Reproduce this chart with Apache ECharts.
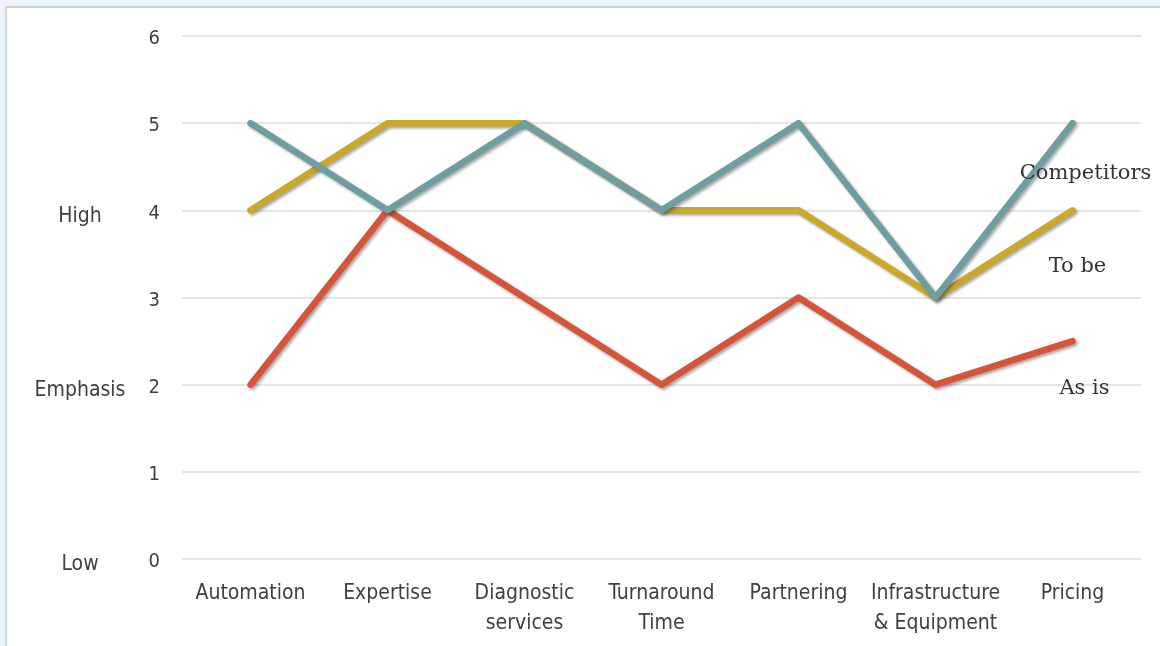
<!DOCTYPE html>
<html>
<head>
<meta charset="utf-8">
<script src="https://cdn.jsdelivr.net/npm/echarts@6/dist/echarts.min.js"></script>
<style>
  html, body { margin: 0; padding: 0; width: 1160px; height: 646px; overflow: hidden; background: #edf4fb; }
  #frame { position: absolute; left: 5px; top: 6px; right: 0; bottom: 0; background: #ffffff;
           border-left: 2px solid #d6d6d6; border-top: 2px solid #cfcfcf; }
  #chart { position: absolute; left: 0; top: 0; width: 1160px; height: 646px; }
</style>
</head>
<body>
<div id="frame"></div>
<div id="chart"></div>
<script>
// Capability areas along the horizontal axis
const categories = ['Automation', 'Expertise', 'Diagnostic\nservices', 'Turnaround\nTime',
                    'Partnering', 'Infrastructure\n& Equipment', 'Pricing'];

// Scores on the 0–6 scale
const asIs        = [2, 4, 3, 2, 3, 2, 2.5];
const toBe        = [4, 5, 5, 4, 4, 3, 4];
const competitors = [5, 4, 5, 4, 5, 3, 5];

// Qualitative reading of the scale
const emphasisLabels = { 0: 'Low', 2: 'Emphasis', 4: 'High' };

const sansNarrow = "'DejaVu Sans Condensed', 'Open Sans', sans-serif";
const serif = "'DejaVu Serif', 'Liberation Serif', serif";

const shadow = { shadowColor: 'rgba(0,0,0,0.35)', shadowBlur: 3, shadowOffsetX: 2, shadowOffsetY: 2 };

function lineSeries(name, data, color, offset) {
  return {
    name: name,
    type: 'line',
    data: data,
    symbol: 'none',
    silent: true,
    lineStyle: Object.assign({ color: color, width: 6.5, cap: 'round', join: 'round' }, shadow),
    endLabel: {
      show: true,
      formatter: name,
      distance: 0,
      align: 'center',
      verticalAlign: 'middle',
      offset: offset,
      fontFamily: serif,
      fontSize: 21,
      color: '#333333'
    }
  };
}

const chart = echarts.init(document.getElementById('chart'), null, { renderer: 'canvas' });
chart.setOption({
  animation: false,
  backgroundColor: 'transparent',
  grid: { left: 182, right: 19, top: 36, bottom: 87 },
  xAxis: {
    type: 'category',
    data: categories,
    boundaryGap: true,
    axisLine: { show: false },
    axisTick: { show: false },
    axisLabel: {
      margin: 20,
      interval: 0,
      fontFamily: sansNarrow,
      fontSize: 21,
      lineHeight: 30,
      color: '#404040'
    }
  },
  yAxis: [
    {
      type: 'value',
      min: 0,
      max: 6,
      interval: 1,
      axisLine: { show: false },
      axisTick: { show: false },
      axisLabel: { margin: 22, fontFamily: sansNarrow, fontSize: 20, color: '#404040',
                   verticalAlign: 'top', lineHeight: 6 },
      splitLine: { lineStyle: { color: '#dcdcdc', width: 1.5 } }
    },
    {
      type: 'value',
      position: 'left',
      min: 0,
      max: 6,
      interval: 2,
      axisLine: { show: false },
      axisTick: { show: false },
      splitLine: { show: false },
      axisLabel: {
        margin: 102,
        align: 'center',
        verticalAlign: 'top',
        lineHeight: 12,
        fontFamily: sansNarrow,
        fontSize: 21,
        color: '#404040',
        formatter: v => emphasisLabels[v] || ''
      }
    }
  ],
  series: [
    lineSeries('As is', asIs, '#d6553a', [12, 47]),
    lineSeries('To be', toBe, '#c9a82a', [5, 56]),
    lineSeries('Competitors', competitors, '#6f9ea1', [13, 50])
  ]
});
</script>
</body>
</html>
